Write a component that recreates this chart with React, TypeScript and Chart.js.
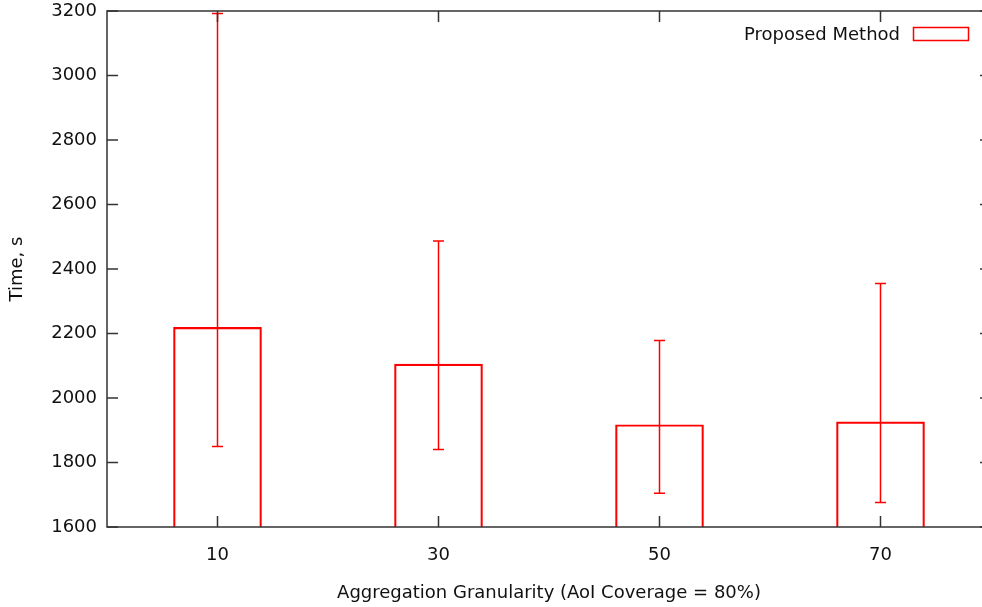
import React, { useEffect, useRef } from "react";
import { Chart, registerables } from "chart.js";

Chart.register(...registerables);

const categories = [10, 30, 50, 70];
const meanTimes = [2219, 2105, 1917, 1926];
const errLow = [1850, 1840, 1705, 1676];
const errHigh = [3192, 2487, 2178, 2355];
const yTicks = [1600, 1800, 2000, 2200, 2400, 2600, 2800, 3000, 3200];
const seriesLabel = "Proposed Method";
const xTitle = "Aggregation Granularity (AoI Coverage = 80%)";
const yTitle = "Time, s";

const FONT = "'DejaVu Sans', Verdana, sans-serif";
const RED = "#ff0000";
const AXIS = "#333333";
const TEXT = "#111111";

const framePlugin = {
  id: "gnuplotFrame",
  afterDatasetsDraw(chart: any) {
    const { ctx, chartArea, scales } = chart;
    const x = scales.x;
    const y = scales.y;
    ctx.save();
    // error bars
    ctx.beginPath();
    ctx.rect(chartArea.left, chartArea.top, chartArea.right - chartArea.left, chartArea.bottom - chartArea.top);
    ctx.clip();
    ctx.strokeStyle = RED;
    ctx.lineWidth = 1.5;
    const cap = 5.5;
    categories.forEach((c, i) => {
      const px = x.getPixelForValue(c);
      const lo = y.getPixelForValue(errLow[i]);
      const hi = y.getPixelForValue(errHigh[i]);
      ctx.beginPath();
      ctx.moveTo(px, lo);
      ctx.lineTo(px, hi);
      ctx.moveTo(px - cap, lo);
      ctx.lineTo(px + cap, lo);
      ctx.moveTo(px - cap, hi);
      ctx.lineTo(px + cap, hi);
      ctx.stroke();
    });
    ctx.restore();

    ctx.save();
    // frame
    ctx.strokeStyle = AXIS;
    ctx.lineWidth = 1.5;
    ctx.strokeRect(chartArea.left, chartArea.top, chartArea.right - chartArea.left, chartArea.bottom - chartArea.top);
    // inward ticks
    const tl = 11;
    ctx.beginPath();
    yTicks.forEach((v) => {
      const py = y.getPixelForValue(v);
      ctx.moveTo(chartArea.left, py);
      ctx.lineTo(chartArea.left + tl, py);
      ctx.moveTo(chartArea.right, py);
      ctx.lineTo(chartArea.right - tl, py);
    });
    categories.forEach((c) => {
      const px = x.getPixelForValue(c);
      ctx.moveTo(px, chartArea.bottom);
      ctx.lineTo(px, chartArea.bottom - tl);
      ctx.moveTo(px, chartArea.top);
      ctx.lineTo(px, chartArea.top + tl);
    });
    ctx.stroke();

    // legend
    ctx.fillStyle = TEXT;
    ctx.font = `18px ${FONT}`;
    ctx.textAlign = "right";
    ctx.textBaseline = "middle";
    ctx.fillText(seriesLabel, 900, 35);
    ctx.strokeStyle = RED;
    ctx.lineWidth = 1.5;
    ctx.strokeRect(913.5, 27.5, 55, 13);
    ctx.restore();
  },
};

export default function App() {
  const canvasRef = useRef<HTMLCanvasElement | null>(null);

  useEffect(() => {
    const canvas = canvasRef.current;
    if (!canvas) return;
    const chart = new Chart(canvas, {
      type: "bar",
      data: {
        datasets: [
          {
            label: seriesLabel,
            data: categories.map((c, i) => ({ x: c, y: meanTimes[i] })),
            backgroundColor: "rgba(0,0,0,0)",
            borderColor: RED,
            borderWidth: 1.5,
            borderSkipped: "bottom",
            barThickness: 88,
          } as any,
        ],
      },
      options: {
        responsive: false,
        animation: false,
        devicePixelRatio: 1,
        layout: { padding: { top: 11, right: 9, left: 0, bottom: 0 } },
        plugins: {
          legend: { display: false },
          tooltip: { enabled: false },
        },
        scales: {
          x: {
            type: "linear",
            min: 0,
            max: 80,
            offset: false,
            afterBuildTicks: (scale: any) => {
              scale.ticks = categories.map((v) => ({ value: v }));
            },
            afterFit: (scale: any) => {
              scale.height = 80;
              scale.paddingLeft = 0;
              scale.paddingRight = 0;
            },
            grid: { display: false, drawTicks: false },
            border: { display: false },
            ticks: {
              padding: 18,
              color: TEXT,
              font: { family: FONT, size: 18 },
              callback: (v: any) => String(v),
            },
            title: {
              display: true,
              text: xTitle,
              color: TEXT,
              font: { family: FONT, size: 18 },
              padding: { top: 0, bottom: 3 },
            },
          },
          y: {
            type: "linear",
            min: 1600,
            max: 3200,
            afterBuildTicks: (scale: any) => {
              scale.ticks = yTicks.map((v) => ({ value: v }));
            },
            afterFit: (scale: any) => {
              scale.width = 107;
              scale.paddingTop = 0;
              scale.paddingBottom = 0;
            },
            grid: { display: false, drawTicks: false },
            border: { display: false },
            ticks: {
              padding: 10,
              color: TEXT,
              font: { family: FONT, size: 18 },
              callback: (v: any) => String(v),
            },
            title: {
              display: true,
              text: yTitle,
              color: TEXT,
              font: { family: FONT, size: 18 },
              padding: { top: 7, bottom: 0 },
            },
          },
        },
      },
      plugins: [framePlugin],
    } as any);
    return () => chart.destroy();
  }, []);

  return (
    <div style={{ position: "fixed", left: 0, top: 0, width: 982, height: 607, overflow: "hidden", background: "#fff" }}>
      <canvas ref={canvasRef} width={1000} height={607} style={{ display: "block", width: 1000, height: 607 }} />
    </div>
  );
}
